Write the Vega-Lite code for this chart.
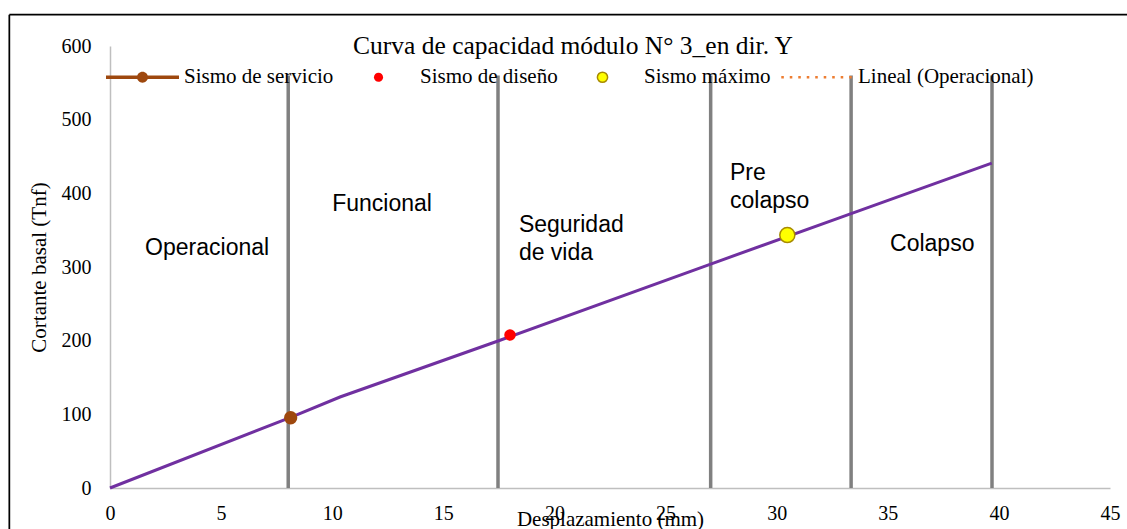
{
  "$schema": "https://vega.github.io/schema/vega-lite/v6.json",
  "width": 1000,
  "height": 442,
  "autosize": {"type": "none"},
  "padding": {"left": 110, "top": 46, "right": 17, "bottom": 41},
  "background": "white",
  "config": {
    "view": {"stroke": null}
  },
  "title": {
    "text": "Curva de capacidad módulo N° 3_en dir. Y",
    "font": "Liberation Serif",
    "fontSize": 25.5,
    "fontWeight": "normal",
    "color": "black",
    "anchor": "middle",
    "frame": "group",
    "baseline": "alphabetic",
    "offset": 0,
    "dx": -37,
    "dy": 66
  },
  "datasets": {
    "curva": [
      {"desplazamiento": 0, "cortante": 0},
      {"desplazamiento": 8.13, "cortante": 96},
      {"desplazamiento": 10.35, "cortante": 123.5},
      {"desplazamiento": 17.46, "cortante": 199.5},
      {"desplazamiento": 27.03, "cortante": 304},
      {"desplazamiento": 33.35, "cortante": 372.5},
      {"desplazamiento": 39.68, "cortante": 441}
    ],
    "limites": [
      {"desplazamiento": 8.02},
      {"desplazamiento": 17.46},
      {"desplazamiento": 27.03},
      {"desplazamiento": 33.35},
      {"desplazamiento": 39.69}
    ],
    "puntos": [
      {"serie": "Sismo de servicio", "desplazamiento": 8.13, "cortante": 95.4},
      {"serie": "Sismo de diseño", "desplazamiento": 18.0, "cortante": 207.7},
      {"serie": "Sismo máximo", "desplazamiento": 30.48, "cortante": 343.4}
    ],
    "etiquetasCentro": [
      {"texto": "Operacional", "desplazamiento": 4.37, "cortante": 325.8},
      {"texto": "Funcional", "desplazamiento": 12.24, "cortante": 385.5},
      {"texto": "Colapso", "desplazamiento": 37.0, "cortante": 331}
    ],
    "etiquetasIzq": [
      {"texto": "Seguridad\nde vida", "desplazamiento": 18.4, "cortante": 356.5},
      {"texto": "Pre\ncolapso", "desplazamiento": 27.9, "cortante": 428}
    ]
  },
  "layer": [
    {
      "data": {"name": "limites"},
      "mark": {"type": "rule", "color": "#808080", "strokeWidth": 3.5},
      "encoding": {
        "x": {
          "field": "desplazamiento",
          "type": "quantitative",
          "scale": {"domain": [0, 45], "nice": false, "zero": false},
          "axis": {
            "title": "Desplazamiento (mm)",
            "values": [0, 5, 10, 15, 20, 25, 30, 35, 40, 45],
            "ticks": false,
            "grid": false,
            "domainColor": "#BFBFBF",
            "domainWidth": 1.5,
            "labelFont": "Liberation Serif",
            "labelFontSize": 20,
            "labelColor": "black",
            "labelPadding": 15,
            "labelFlush": false,
            "labelOverlap": false,
            "titleFont": "Liberation Serif",
            "titleFontSize": 21,
            "titleFontWeight": "normal",
            "titleColor": "black",
            "titleX": 500,
            "titleY": 31,
            "titleBaseline": "middle"
          }
        },
        "y": {"datum": 0, "type": "quantitative", "scale": {"domain": [0, 600], "nice": false, "zero": false}},
        "y2": {"datum": 560}
      }
    },
    {
      "data": {"name": "curva"},
      "mark": {"type": "line", "color": "#7030A0", "strokeWidth": 3},
      "encoding": {
        "x": {"field": "desplazamiento", "type": "quantitative", "scale": {"domain": [0, 45], "nice": false, "zero": false}},
        "y": {
          "field": "cortante",
          "type": "quantitative",
          "scale": {"domain": [0, 600], "nice": false, "zero": false},
          "axis": {
            "title": "Cortante basal (Tnf)",
            "values": [0, 100, 200, 300, 400, 500, 600],
            "ticks": false,
            "grid": false,
            "domainColor": "#BFBFBF",
            "domainWidth": 1.5,
            "labelFont": "Liberation Serif",
            "labelFontSize": 20,
            "labelColor": "black",
            "labelPadding": 19,
            "labelOverlap": false,
            "titleFont": "Liberation Serif",
            "titleFontSize": 21,
            "titleFontWeight": "normal",
            "titleColor": "black",
            "titleAngle": -90,
            "titleX": -71,
            "titleY": 221,
            "titleAlign": "center",
            "titleBaseline": "middle"
          }
        }
      }
    },
    {
      "data": {"name": "puntos"},
      "transform": [{"filter": "datum.serie === 'Sismo de servicio'"}],
      "mark": {"type": "point", "filled": true, "shape": "circle", "size": 177, "color": "#9E480E", "opacity": 1},
      "encoding": {
        "x": {"field": "desplazamiento", "type": "quantitative"},
        "y": {"field": "cortante", "type": "quantitative"}
      }
    },
    {
      "data": {"name": "puntos"},
      "transform": [{"filter": "datum.serie === 'Sismo de diseño'"}],
      "mark": {"type": "point", "filled": true, "shape": "circle", "size": 133, "color": "#FF0000", "opacity": 1},
      "encoding": {
        "x": {"field": "desplazamiento", "type": "quantitative"},
        "y": {"field": "cortante", "type": "quantitative"}
      }
    },
    {
      "data": {"name": "puntos"},
      "transform": [{"filter": "datum.serie === 'Sismo máximo'"}],
      "mark": {"type": "point", "filled": true, "shape": "circle", "size": 227, "fill": "#FFFF00", "stroke": "#A88B00", "strokeWidth": 1.5, "opacity": 1},
      "encoding": {
        "x": {"field": "desplazamiento", "type": "quantitative"},
        "y": {"field": "cortante", "type": "quantitative"}
      }
    },
    {
      "data": {"name": "puntos"},
      "transform": [{"filter": "false"}],
      "mark": {"type": "point", "filled": true, "opacity": 1},
      "encoding": {
        "color": {
          "field": "serie",
          "type": "nominal",
          "scale": {
            "domain": ["Sismo de servicio", "Sismo de diseño", "Sismo máximo", "Lineal (Operacional)"],
            "range": ["#9E480E", "#FF0000", "#FFFF00", "#ED7D31"]
          }
        },
        "stroke": {
          "field": "serie",
          "type": "nominal",
          "scale": {
            "domain": ["Sismo de servicio", "Sismo de diseño", "Sismo máximo", "Lineal (Operacional)"],
            "range": ["transparent", "transparent", "#A88B00", "transparent"]
          }
        },
        "shape": {
          "field": "serie",
          "type": "nominal",
          "scale": {
            "domain": ["Sismo de servicio", "Sismo de diseño", "Sismo máximo", "Lineal (Operacional)"],
            "range": [
              "M-1,-0.048H1V0.048H-1ZM-0.15,0A0.15,0.15,0,1,1,0.15,0A0.15,0.15,0,1,1,-0.15,0Z",
              "M-0.125,0A0.125,0.125,0,1,1,0.125,0A0.125,0.125,0,1,1,-0.125,0Z",
              "M-0.14,0A0.14,0.14,0,1,1,0.14,0A0.14,0.14,0,1,1,-0.14,0Z",
              "M-0.965,-0.035h0.07v0.07h-0.07ZM-0.7325,-0.035h0.07v0.07h-0.07ZM-0.5,-0.035h0.07v0.07h-0.07ZM-0.2675,-0.035h0.07v0.07h-0.07ZM-0.035,-0.035h0.07v0.07h-0.07ZM0.1975,-0.035h0.07v0.07h-0.07ZM0.43,-0.035h0.07v0.07h-0.07ZM0.6625,-0.035h0.07v0.07h-0.07ZM0.895,-0.035h0.07v0.07h-0.07Z"
            ]
          },
          "legend": {
            "title": null,
            "orient": "none",
            "legendX": -5,
            "legendY": -6.5,
            "direction": "horizontal",
            "padding": 0,
            "symbolSize": 5329,
            "symbolStrokeWidth": 1.5,
            "columnPadding": 7,
            "labelFont": "Liberation Serif",
            "labelFontSize": 21,
            "labelColor": "black",
            "labelOffset": 4,
            "labelLimit": 400
          }
        }
      }
    },
    {
      "data": {"name": "etiquetasCentro"},
      "mark": {"type": "text", "font": "Liberation Sans", "fontSize": 23, "color": "black", "align": "center", "baseline": "middle"},
      "encoding": {
        "x": {"field": "desplazamiento", "type": "quantitative"},
        "y": {"field": "cortante", "type": "quantitative"},
        "text": {"field": "texto"}
      }
    },
    {
      "data": {"name": "etiquetasIzq"},
      "mark": {"type": "text", "font": "Liberation Sans", "fontSize": 23, "color": "black", "align": "left", "baseline": "middle", "lineBreak": "\n", "lineHeight": 28},
      "encoding": {
        "x": {"field": "desplazamiento", "type": "quantitative"},
        "y": {"field": "cortante", "type": "quantitative"},
        "text": {"field": "texto"}
      }
    },
    {
      "data": {"values": [{}]},
      "mark": {"type": "rule", "color": "black", "strokeWidth": 1.75},
      "encoding": {
        "x": {"datum": -4.53, "type": "quantitative", "scale": {"domain": [0, 45], "nice": false, "zero": false}},
        "x2": {"datum": 46.5},
        "y": {"datum": 642.5, "type": "quantitative", "scale": {"domain": [0, 600], "nice": false, "zero": false}}
      }
    },
    {
      "data": {"values": [{}]},
      "mark": {"type": "rule", "color": "black", "strokeWidth": 1.75},
      "encoding": {
        "x": {"datum": -4.53, "type": "quantitative", "scale": {"domain": [0, 45], "nice": false, "zero": false}},
        "y": {"datum": 642.5, "type": "quantitative", "scale": {"domain": [0, 600], "nice": false, "zero": false}},
        "y2": {"datum": -70}
      }
    }
  ]
}
